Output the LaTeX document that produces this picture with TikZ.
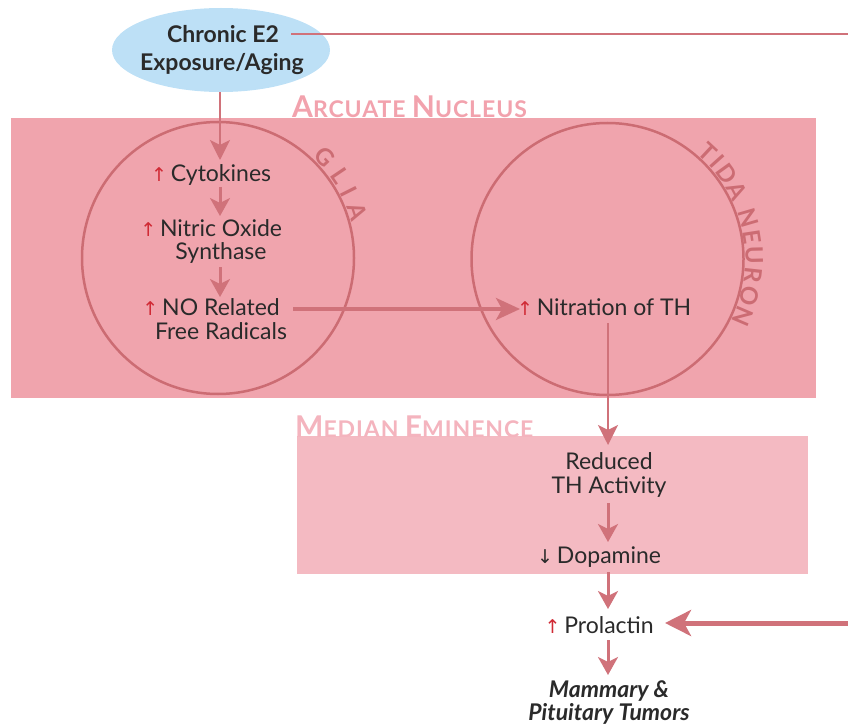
\documentclass[tikz,border=0pt]{standalone}
\usepackage{fontspec}
\setmainfont{Lato}
\setsansfont{Lato}
\newfontfamily\arrfont{DejaVu Sans}
\newfontfamily\arcfont[LetterSpace=4]{Lato}
\usetikzlibrary{arrows.meta,decorations.text,calc,shapes.geometric}
\definecolor{arcfill}{HTML}{F0A4AD}
\definecolor{medfill}{HTML}{F4BAC2}
\definecolor{arclab}{HTML}{F2A2AD}
\definecolor{medlab}{HTML}{F4B4BE}
\definecolor{circc}{HTML}{CC6C73}
\definecolor{arrc}{HTML}{D0727A}
\definecolor{ellc}{HTML}{BDE0F6}
\definecolor{upred}{HTML}{D02A35}
\definecolor{txt}{HTML}{2A2A2A}
\newcommand{\myup}{{\arrfont\color{upred}\fontsize{19}{19}\selectfont↑}}
\newcommand{\mydn}{{\arrfont\fontsize{19}{19}\selectfont↓}}
\begin{document}
\begin{tikzpicture}[x=1pt,y=1pt,
  body/.style={text=txt,align=center,font=\fontsize{23}{24}\selectfont,inner sep=0pt,anchor=base},
  arr/.style={draw=arrc,line width=3pt,-{Stealth[length=18pt,width=20pt,inset=5pt]}},
  thinarr/.style={draw=arrc,line width=2.2pt,-{Stealth[length=20pt,width=20pt,inset=5pt]}},
  circ/.style={draw=circc,line width=2.5pt,circle,minimum size=272pt,inner sep=0pt},
  curvetext/.style={decorate,
    decoration={text along path,text align=fit to path,raise=1pt,
      text={|\fontsize{24}{24}\selectfont\bfseries\color{circc}|#1}}}
]
\useasboundingbox (0,0) rectangle (848,-727);
% regions
\fill[arcfill] (11,-118) rectangle (816,-398);
\fill[medfill] (297,-436) rectangle (808,-574);
\node[anchor=base west,inner sep=0pt,text=arclab,font=\bfseries\arcfont] (arcl) at (292,-118)
  {\fontsize{30}{30}\selectfont A\fontsize{23}{23}\selectfont RCUATE \fontsize{30}{30}\selectfont N\fontsize{23}{23}\selectfont UCLEUS};
\node[anchor=base west,inner sep=0pt,text=medlab,font=\bfseries\arcfont] (medl) at (295,-437)
  {\fontsize{30}{30}\selectfont M\fontsize{23}{23}\selectfont EDIAN \fontsize{30}{30}\selectfont E\fontsize{23}{23}\selectfont MINENCE};
% circles
\node[circ] (glia) at (218,-258) {};
\node[circ] (tida) at (607.5,-259) {};
\path[curvetext={GLIA}]
  ($(glia.center)+(47:137)$) arc[start angle=47,end angle=15,radius=137];
\path[curvetext={TIDA NEURON}]
  ($(tida.center)+(50:137)$) arc[start angle=50,end angle=-27,radius=137];
% ellipse
\node[ellipse,fill=ellc,minimum width=218pt,minimum height=84pt,inner sep=0pt] (e2) at (221,-50) {};
\node[body,font=\bfseries\fontsize{23}{24}\selectfont] (e2a) at (223,-43) {Chronic E2};
\node[body,font=\bfseries\fontsize{23}{24}\selectfont] (e2b) at (222,-71) {Exposure/Aging};
% text nodes
\node[body] (cyto) at (221,-182) {\llap{\myup\,}Cytokines};
\node[body] (nos) at (221,-260) {\llap{\myup\,}Nitric Oxide\\Synthase};
\node[body] (norad) at (221,-339) {\llap{\myup\,}NO Related\\Free Radicals};
\node[body] (nitr) at (614,-315) {\llap{\myup\,}Nitration of TH};
\node[body] (red) at (609,-493) {Reduced\\TH Activity};
\node[body] (dop) at (609,-563) {\llap{\mydn\,}Dopamine};
\node[body] (prl) at (609,-633) {\llap{\myup\,}Prolactin};
\node[body,font=\bfseries\itshape\fontsize{23}{23}\selectfont] (tum) at (609,-720) {Mammary \&\\Pituitary Tumors};
% connectors
\coordinate (col) at (220,0);
\coordinate (col2) at (608,0);
\coordinate (offA) at (870,-34);
\coordinate (offB) at (870,-623);
\coordinate (hs) at (293,-309);
\coordinate (he) at (520,-309);
\draw[draw=arrc,line width=2.5pt] ([xshift=12pt,yshift=9pt]e2a.base east) -- (offA);
\draw[thinarr] (e2.south -| col) -- ([yshift=-160pt]col);
\draw[arr] ([yshift=-187pt]col) -- ([yshift=-216pt]col);
\draw[arr] ([yshift=-267pt]col) -- ([yshift=-297pt]col);
\draw[draw=arrc,line width=3.5pt,-{Stealth[length=24pt,width=22pt,inset=6pt]}] (hs) -- (he);
\draw[thinarr] ([yshift=-323pt]col2) -- ([yshift=-445pt]col2);
\draw[arr] ([yshift=-503pt]col2) -- ([yshift=-542pt]col2);
\draw[arr] ([yshift=-572pt]col2) -- ([yshift=-609pt]col2);
\draw[arr] ([yshift=-640pt]col2) -- ([yshift=-675pt]col2);
\draw[draw=arrc,line width=5pt,-{Stealth[length=26pt,width=26pt,inset=7pt]}] (offB) -- (665,-623);
\end{tikzpicture}
\end{document}
